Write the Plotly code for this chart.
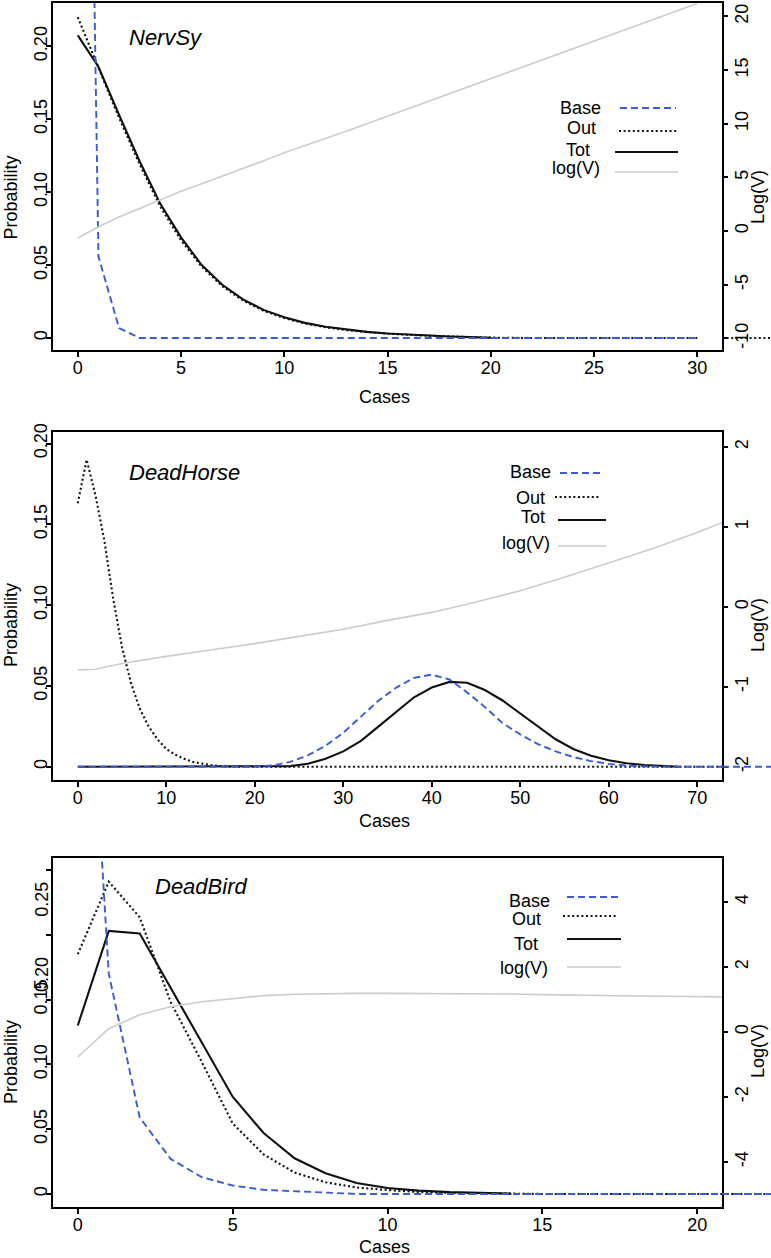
import plotly.graph_objects as go

FONT = "Liberation Sans, Arial, Helvetica, sans-serif"
BLUE = "#3A5BD6"
GREY = "#C9CDCD"
BLACK = "#111111"

W, H = 771, 1258

# ---------------- Panel 1 : NervSy ----------------
cases1 = [0, 1, 2, 3, 4, 5, 6, 7, 8, 9, 10, 11, 12, 13, 14, 15, 16, 17, 18, 19, 20,
          21, 22, 23, 24, 25, 26, 27, 28, 29, 30]
base1 = [0.97, 0.056, 0.0068, 0, 0, 0, 0, 0, 0, 0, 0, 0, 0, 0, 0, 0, 0, 0, 0, 0, 0,
         0, 0, 0, 0, 0, 0, 0, 0, 0, 0]
out1 = [0.220, 0.185, 0.151, 0.119, 0.090, 0.067, 0.049, 0.0355, 0.0258, 0.0187, 0.0137,
        0.010, 0.0074, 0.0054, 0.004, 0.003, 0.0022, 0.0015, 0.001, 0.0006, 0.0003,
        0, 0, 0, 0, 0, 0, 0, 0, 0, 0]
tot_cases1 = [0, 1, 2, 3, 4, 5, 6, 7, 8, 9, 10, 11, 12, 13, 14, 15, 16, 17, 18, 19, 20]
tot1 = [0.2075, 0.186, 0.153, 0.121, 0.092, 0.069, 0.050, 0.0365, 0.0265, 0.0193, 0.0142,
        0.0104, 0.0077, 0.0057, 0.0042, 0.0031, 0.0023, 0.0016, 0.0011, 0.0006, 0.0002]
logv1 = [-0.65, 0.4, 1.3, 2.1, 2.95, 3.7, 4.4, 5.1, 5.8, 6.55, 7.3, 7.95, 8.6, 9.3, 10.0,
         10.7, 11.4, 12.1, 12.8, 13.5, 14.2, 14.9, 15.6, 16.3, 17.0, 17.7, 18.4, 19.1,
         19.8, 20.5, 21.2]

# ---------------- Panel 2 : DeadHorse ----------------
out_cases2 = [0, 1, 2, 3, 4, 5, 6, 7, 8, 9, 10, 11, 12, 13, 14, 15, 16, 17, 73]
out2 = [0.163, 0.190, 0.168, 0.140, 0.104, 0.074, 0.052, 0.036, 0.025, 0.017, 0.011,
        0.0075, 0.005, 0.003, 0.002, 0.001, 0.0005, 0, 0]
base_cases2 = [0, 20, 22, 24, 26, 28, 30, 32, 34, 36, 38, 40, 42, 44, 46, 48, 50, 52,
               54, 56, 58, 60, 62, 64, 66, 73]
base2 = [0, 0, 0.0008, 0.003, 0.007, 0.013, 0.021, 0.031, 0.041, 0.049, 0.055, 0.057,
         0.054, 0.046, 0.037, 0.027, 0.020, 0.014, 0.0095, 0.006, 0.0035, 0.0018,
         0.0007, 0.0002, 0, 0]
tot_cases2 = [0, 22, 24, 26, 28, 30, 32, 34, 36, 38, 40, 42, 44, 46, 48, 50, 52, 54,
              56, 58, 60, 62, 64, 66, 68]
tot2 = [0, 0, 0.0004, 0.0018, 0.005, 0.0095, 0.016, 0.025, 0.034, 0.043, 0.049, 0.0525,
        0.052, 0.0475, 0.041, 0.033, 0.0245, 0.017, 0.011, 0.0068, 0.004, 0.0022,
        0.0011, 0.0004, 0]
logv_cases2 = [0, 2, 5, 10, 15, 20, 25, 30, 35, 40, 45, 50, 55, 60, 65, 70, 73]
logv2 = [-0.79, -0.78, -0.71, -0.62, -0.54, -0.46, -0.37, -0.28, -0.17, -0.07, 0.06,
         0.20, 0.37, 0.55, 0.73, 0.93, 1.06]

# ---------------- Panel 3 : DeadBird ----------------
cases3 = [0, 1, 2, 3, 4, 5, 6, 7, 8, 9, 10, 11, 12, 13, 14, 15, 16, 17, 18, 19, 20, 21]
base3 = [0.57, 0.17, 0.059, 0.027, 0.013, 0.0065, 0.0032, 0.0022, 0.0015, 0, 0, 0, 0,
         0, 0, 0, 0, 0, 0, 0, 0, 0]
out3 = [0.185, 0.241, 0.2135, 0.148, 0.102, 0.0545, 0.0305, 0.0165, 0.009, 0.005, 0.003,
        0.0015, 0.0008, 0.0004, 0.0002, 0, 0, 0, 0, 0, 0, 0]
tot_cases3 = [0, 1, 2, 3, 4, 5, 6, 7, 8, 9, 10, 11, 12, 13, 14]
tot3 = [0.130, 0.203, 0.201, 0.159, 0.1175, 0.075, 0.047, 0.0275, 0.016, 0.0085, 0.0046,
        0.0026, 0.0014, 0.0006, 0.0002]
logv3 = [-0.77, 0.1, 0.53, 0.78, 0.93, 1.03, 1.12, 1.16, 1.18, 1.19, 1.19, 1.19, 1.19,
         1.18, 1.17, 1.15, 1.13, 1.12, 1.11, 1.10, 1.09, 1.08]

panel_titles = ["NervSy", "DeadHorse", "DeadBird"]
legend_labels = ["Base", "Out", "Tot", "log(V)"]

# tick labels
prob_ticks1 = [0, 0.05, 0.10, 0.15, 0.20]
prob_text1 = ["0", "0.05", "0.10", "0.15", "0.20"]
prob_ticks3 = [0, 0.05, 0.10, 0.15, 0.20, 0.25]
prob_text3 = ["0", "0.05", "0.10", "0.15", "", ""]
logv_ticks1 = [-10, -5, 0, 5, 10, 15, 20]
logv_ticks2 = [-2, -1, 0, 1, 2]
logv_ticks3 = [-4, -2, 0, 2, 4]
case_ticks1 = [0, 5, 10, 15, 20, 25, 30]
case_ticks2 = [0, 10, 20, 30, 40, 50, 60, 70]
case_ticks3 = [0, 5, 10, 15, 20]

# ---------------- layout geometry ----------------
XDOM = [53 / W, 722 / W]


def ydom(top_px, bot_px):
    return [1 - bot_px / H, 1 - top_px / H]


doms = [ydom(2.7, 350), ydom(431.7, 780), ydom(858.3, 1207.3)]
xranges = [[-1.2, 31.2], [-2.8, 72.8], [-0.8, 20.8]]
yranges = [[-0.0082, 0.2299], [-0.0082, 0.2073], [-0.0103, 0.259]]
y2ranges = [[-11.09, 21.28], [-2.166, 2.19], [-5.394, 5.345]]

tickfont = dict(family=FONT, size=18, color="black")

fig = go.Figure()

panels = [
    dict(base=(cases1, base1), out=(cases1, out1), tot=(tot_cases1, tot1), logv=(cases1, logv1)),
    dict(base=(base_cases2, base2), out=(out_cases2, out2), tot=(tot_cases2, tot2), logv=(logv_cases2, logv2)),
    dict(base=(cases3, base3), out=(cases3, out3), tot=(tot_cases3, tot3), logv=(cases3, logv3)),
]

DASH_BASE = "7px,4px"
DASH_OUT = "2px,2.6px"

for i, p in enumerate(panels):
    xa = "x" if i == 0 else f"x{i + 1}"
    ya = "y" if i == 0 else f"y{2 * i + 1}"
    ya2 = f"y{2 * i + 2}"
    fig.add_trace(go.Scatter(x=p["logv"][0], y=p["logv"][1], mode="lines",
                             line=dict(color=GREY, width=1.6), xaxis=xa, yaxis=ya2,
                             showlegend=False, hoverinfo="skip"))
    fig.add_trace(go.Scatter(x=p["tot"][0], y=p["tot"][1], mode="lines",
                             line=dict(color=BLACK, width=2.1), xaxis=xa, yaxis=ya,
                             showlegend=False, hoverinfo="skip"))
    fig.add_trace(go.Scatter(x=p["out"][0], y=p["out"][1], mode="lines",
                             line=dict(color=BLACK, width=2.1, dash=DASH_OUT), xaxis=xa, yaxis=ya,
                             showlegend=False, hoverinfo="skip"))
    fig.add_trace(go.Scatter(x=p["base"][0], y=p["base"][1], mode="lines",
                             line=dict(color=BLUE, width=1.9, dash=DASH_BASE), xaxis=xa, yaxis=ya,
                             showlegend=False, hoverinfo="skip"))

layout = dict(
    width=W, height=H,
    margin=dict(l=0, r=0, t=0, b=0, autoexpand=False),
    paper_bgcolor="white", plot_bgcolor="white",
    font=dict(family=FONT, size=18, color="black"),
    showlegend=False,
)

case_ticks = [case_ticks1, case_ticks2, case_ticks3]
prob_ticks = [(prob_ticks1, prob_text1), (prob_ticks1, prob_text1), (prob_ticks3, prob_text3)]
logv_ticks = [logv_ticks1, logv_ticks2, logv_ticks3]

for i in range(3):
    xk = "xaxis" if i == 0 else f"xaxis{i + 1}"
    yk = "yaxis" if i == 0 else f"yaxis{2 * i + 1}"
    yk2 = f"yaxis{2 * i + 2}"
    xref = "x" if i == 0 else f"x{i + 1}"
    yref = "y" if i == 0 else f"y{2 * i + 1}"
    layout[xk] = dict(domain=XDOM, anchor=yref, range=xranges[i], automargin=False,
                      tickvals=case_ticks[i], ticktext=[str(v) for v in case_ticks[i]],
                      ticks="outside", ticklen=5, tickwidth=1.5, tickcolor="black",
                      ticklabelstandoff=-5,
                      showline=True, linewidth=2, linecolor="black", mirror=True,
                      showgrid=False, zeroline=False, tickfont=tickfont)
    layout[yk] = dict(domain=doms[i], anchor=xref, range=yranges[i], automargin=False,
                      tickvals=prob_ticks[i][0], ticktext=prob_ticks[i][1], tickangle=-90,
                      ticks="outside", ticklen=5, tickwidth=1.5, tickcolor="black",
                      ticklabelstandoff=-8,
                      showline=True, linewidth=2, linecolor="black", mirror=True,
                      showgrid=False, zeroline=False, tickfont=tickfont)
    layout[yk2] = dict(overlaying=yref, side="right", anchor=xref, range=y2ranges[i],
                       automargin=False,
                       tickvals=logv_ticks[i], ticktext=[str(v) for v in logv_ticks[i]],
                       tickangle=-90, ticks="outside", ticklen=5, tickwidth=1.5,
                       ticklabelstandoff=-2,
                       tickcolor="black", showline=False, showgrid=False, zeroline=False,
                       tickfont=tickfont)

fig.update_layout(**layout)

ann = []
shapes = []


def px_x(v):
    return v / W


def px_y(v):
    return 1 - v / H


# panel titles (italic)
title_pos = [(127, 38), (127, 472), (153, 886)]
for t, (tx, ty) in zip(panel_titles, title_pos):
    ann.append(dict(text=f"<i>{t}</i>", x=px_x(tx), y=px_y(ty), xref="paper", yref="paper",
                    xanchor="left", yanchor="middle", showarrow=False,
                    font=dict(family=FONT, size=22, color="black")))

# axis titles
for yc in [197.5, 625, 1062]:
    ann.append(dict(text="Probability", x=px_x(11), y=px_y(yc), xref="paper", yref="paper",
                    textangle=-90, xanchor="center", yanchor="middle", showarrow=False,
                    font=dict(family=FONT, size=18, color="black")))
for yc in [197, 625, 1051]:
    ann.append(dict(text="Log(V)", x=px_x(758), y=px_y(yc), xref="paper", yref="paper",
                    textangle=-90, xanchor="center", yanchor="middle", showarrow=False,
                    font=dict(family=FONT, size=18, color="black")))
for yc in [397, 821, 1247]:
    ann.append(dict(text="Cases", x=px_x(384), y=px_y(yc), xref="paper", yref="paper",
                    xanchor="center", yanchor="middle", showarrow=False,
                    font=dict(family=FONT, size=18, color="black")))

# misplaced tick labels on panel 3 (as in the original figure)
for lab, yv in [("0.20", 0.169), ("0.25", 0.227)]:
    ann.append(dict(text=lab, x=px_x(42), y=yv, xref="paper", yref="y5",
                    textangle=-90, xanchor="center", yanchor="middle", showarrow=False,
                    font=tickfont))

# legends: text (right aligned) + line sample
legend_geo = [
    [(603, 108, 620, 676, 108), (598, 128, 619, 677, 131), (592, 150, 615, 678, 152), (602, 168, 615, 678, 172)],
    [(553, 472, 560, 603, 473), (547, 498, 555, 601, 497), (547, 517, 558, 606, 520), (552, 543, 558, 606, 546)],
    [(552, 901, 567, 618, 897), (543, 919, 563, 618, 916), (540, 944, 567, 621, 939), (550, 968, 567, 621, 967)],
]
styles = [dict(color=BLUE, width=1.9, dash=DASH_BASE),
          dict(color=BLACK, width=2.1, dash=DASH_OUT),
          dict(color=BLACK, width=2.1),
          dict(color=GREY, width=1.6)]
for geo in legend_geo:
    for lab, (tr, ty, lx0, lx1, ly), st in zip(legend_labels, geo, styles):
        ann.append(dict(text=lab, x=px_x(tr), y=px_y(ty), xref="paper", yref="paper",
                        xanchor="right", yanchor="middle", showarrow=False,
                        font=dict(family=FONT, size=18, color="black")))
        shapes.append(dict(type="line", xref="paper", yref="paper",
                           x0=px_x(lx0), x1=px_x(lx1), y0=px_y(ly), y1=px_y(ly), line=st))

# zero lines continuing into the right margin, as in the original
edge0 = XDOM[1]
shapes.append(dict(type="line", xref="paper", yref="y", x0=edge0, x1=1.0, y0=0, y1=0,
                   line=dict(color=BLACK, width=2, dash=DASH_OUT)))
shapes.append(dict(type="line", xref="paper", yref="y3", x0=edge0, x1=1.0, y0=0, y1=0,
                   line=dict(color=BLUE, width=1.9, dash=DASH_BASE)))
shapes.append(dict(type="line", xref="paper", yref="y5", x0=edge0, x1=1.0, y0=0, y1=0,
                   line=dict(color=BLACK, width=2, dash=DASH_OUT)))
shapes.append(dict(type="line", xref="paper", yref="y5", x0=edge0, x1=1.0, y0=0, y1=0,
                   line=dict(color=BLUE, width=1.9, dash=DASH_BASE)))

fig.update_layout(annotations=ann, shapes=shapes)
fig.write_html("out.html", config={"displayModeBar": False},
               post_script="document.body.style.margin='0';document.body.style.overflow='hidden';")
